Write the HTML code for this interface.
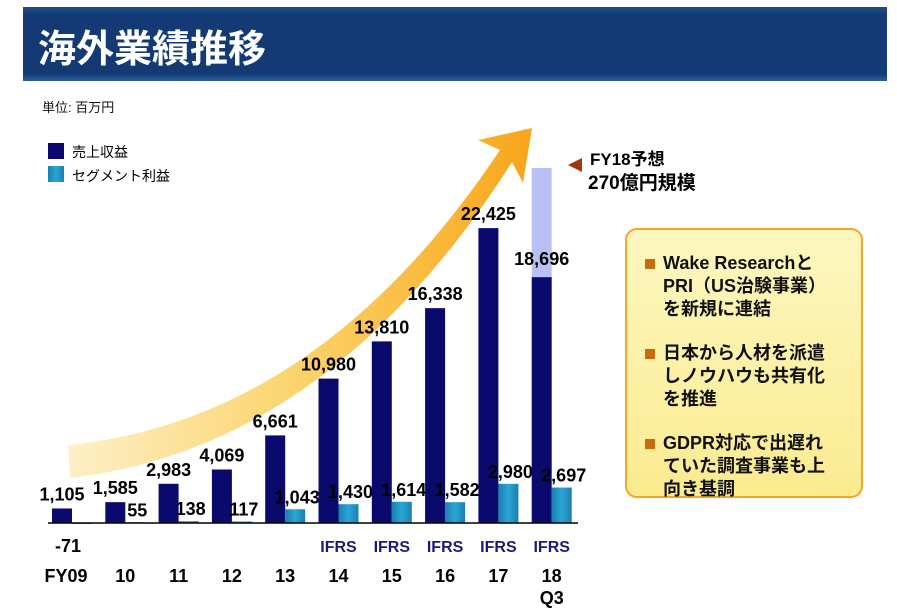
<!DOCTYPE html>
<html><head><meta charset="utf-8">
<style>
body{margin:0;width:897px;height:611px;background:#fff;overflow:hidden;font-family:"Liberation Sans","Noto Sans CJK JP",sans-serif;}
svg{position:absolute;left:0;top:0}
.box{position:absolute;left:625px;top:228px;width:238px;height:270px;border:2px solid #f5a623;border-radius:12px;background:linear-gradient(#fdf7c0,#fbeb90);box-sizing:border-box}
.it{position:absolute;left:36px;font:bold 18px/23px "Liberation Sans","Noto Sans CJK JP",sans-serif;color:#111;white-space:nowrap}
.it:before{content:"";position:absolute;left:-18px;top:7px;width:10px;height:10px;background:#cc6a10}
</style></head><body>
<svg width="897" height="611">
<defs>
<linearGradient id="arr" x1="0" y1="0" x2="1" y2="0"><stop offset="0" stop-color="#fdf0c8"/><stop offset="0.5" stop-color="#fbd36a"/><stop offset="1" stop-color="#f8a51a"/></linearGradient>
<linearGradient id="seg" x1="0" y1="0" x2="1" y2="0"><stop offset="0" stop-color="#1a7fb0"/><stop offset="0.5" stop-color="#2aa6d4"/><stop offset="1" stop-color="#1a7fb0"/></linearGradient>
<linearGradient id="tb" x1="0" y1="0" x2="0" y2="1"><stop offset="0" stop-color="#1f4d8c"/><stop offset="0.1" stop-color="#133a74"/><stop offset="0.9" stop-color="#133a74"/><stop offset="1" stop-color="#2c5ea0"/></linearGradient>
</defs>
<rect x="23" y="7" width="864" height="74" fill="url(#tb)"/>
<text x="38" y="62" fill="#fff" font-size="38" font-weight="bold">海外業績推移</text>
<text x="42" y="112" font-size="13" fill="#111">単位: 百万円</text>
<rect x="48" y="143" width="16" height="16" fill="#0a0a6e"/>
<text x="72" y="157" font-size="14">売上収益</text>
<rect x="48" y="166" width="16" height="16" fill="url(#seg)"/>
<text x="72" y="181" font-size="14">セグメント利益</text>
<path d="M68,445 Q320,420 500,150 L478,140 L532,128 L523,183 L512,162 Q330,448 70,478 Z" fill="url(#arr)"/>
<g id="bars"></g>
<line x1="48" y1="523" x2="578" y2="523" stroke="#000" stroke-width="1.5"/>
<polygon points="568,165 582,158 582,172" fill="#a0360a"/>
<text x="590" y="165" font-size="17" font-weight="bold">FY18予想</text>
<text x="588" y="189" font-size="19" font-weight="bold">270億円規模</text>
</svg>
<div class="box">
<div class="it" style="top:22px">Wake Researchと<br>PRI（US治験事業）<br>を新規に連結</div>
<div class="it" style="top:112px">日本から人材を派遣<br>しノウハウも共有化<br>を推進</div>
<div class="it" style="top:202px">GDPR対応で出遅れ<br>ていた調査事業も上<br>向き基調</div>
</div>
<script>
const categories=["FY09","10","11","12","13","14","15","16","17","18"];
const revenue=[1105,1585,2983,4069,6661,10980,13810,16338,22425,18696];
const segment=[-71,55,138,117,1043,1430,1614,1582,2980,2697];
const revenueLabels=["1,105","1,585","2,983","4,069","6,661","10,980","13,810","16,338","22,425","18,696"];
const segmentLabels=["-71","55","138","117","1,043","1,430","1,614","1,582","2,980","2,697"];
const ifrs=[false,false,false,false,false,true,true,true,true,true];
const forecast=27000;
const NS="http://www.w3.org/2000/svg";
const base=523,k=0.01315,x0=52,step=53.3,bw=20;
const xs=i=>x0+i*step, ys=v=>base-v*k;
const g=document.getElementById('bars');
function mk(t,a){const e=document.createElementNS(NS,t);for(const n in a)e.setAttribute(n,a[n]);g.appendChild(e);return e;}
const last=categories.length-1;
const fb=mk('rect',{x:xs(last),y:ys(forecast),width:bw,height:ys(revenue[last])-ys(forecast),fill:'#b8c0f4'});


categories.forEach((c,i)=>{
 const x=xs(i);
 const r=mk('rect',{x:x,y:ys(revenue[i]),width:bw,height:revenue[i]*k,fill:'#0a0a6e'});
 
 
 const sv=segment[i];
 const s=mk('rect',{x:x+bw,y:sv>=0?ys(sv):base,width:bw,height:Math.max(Math.abs(sv)*k,0.8),fill:'url(#seg)'});
 
 
 const rl=mk('text',{x:x+bw/2,y:(i==last?ys(revenue[i])-12:ys(revenue[i])-8),'text-anchor':'middle','font-size':18,'font-weight':'bold'});
 rl.textContent=revenueLabels[i];
 
 
 const sl=mk('text',{x:sv<0?x+bw/2+6:x+bw+12,y:sv<0?552:ys(Math.max(sv,0))-6,'text-anchor':'middle','font-size':18,'font-weight':'bold'});
 sl.textContent=segmentLabels[i];
 
 
 if(ifrs[i]){const f=mk('text',{x:x+bw,y:552,'text-anchor':'middle','font-size':16,'font-weight':'bold',fill:'#1a1a7a'});f.textContent='IFRS';
 
 }
 const cl=mk('text',{x:i==0?x+14:x+bw,y:582,'text-anchor':'middle','font-size':18,'font-weight':'bold'});
 cl.textContent=c;
 
 
});
const q=mk('text',{x:xs(last)+bw,y:604,'text-anchor':'middle','font-size':18,'font-weight':'bold'});
q.textContent='Q3';


</script>
</body></html>
